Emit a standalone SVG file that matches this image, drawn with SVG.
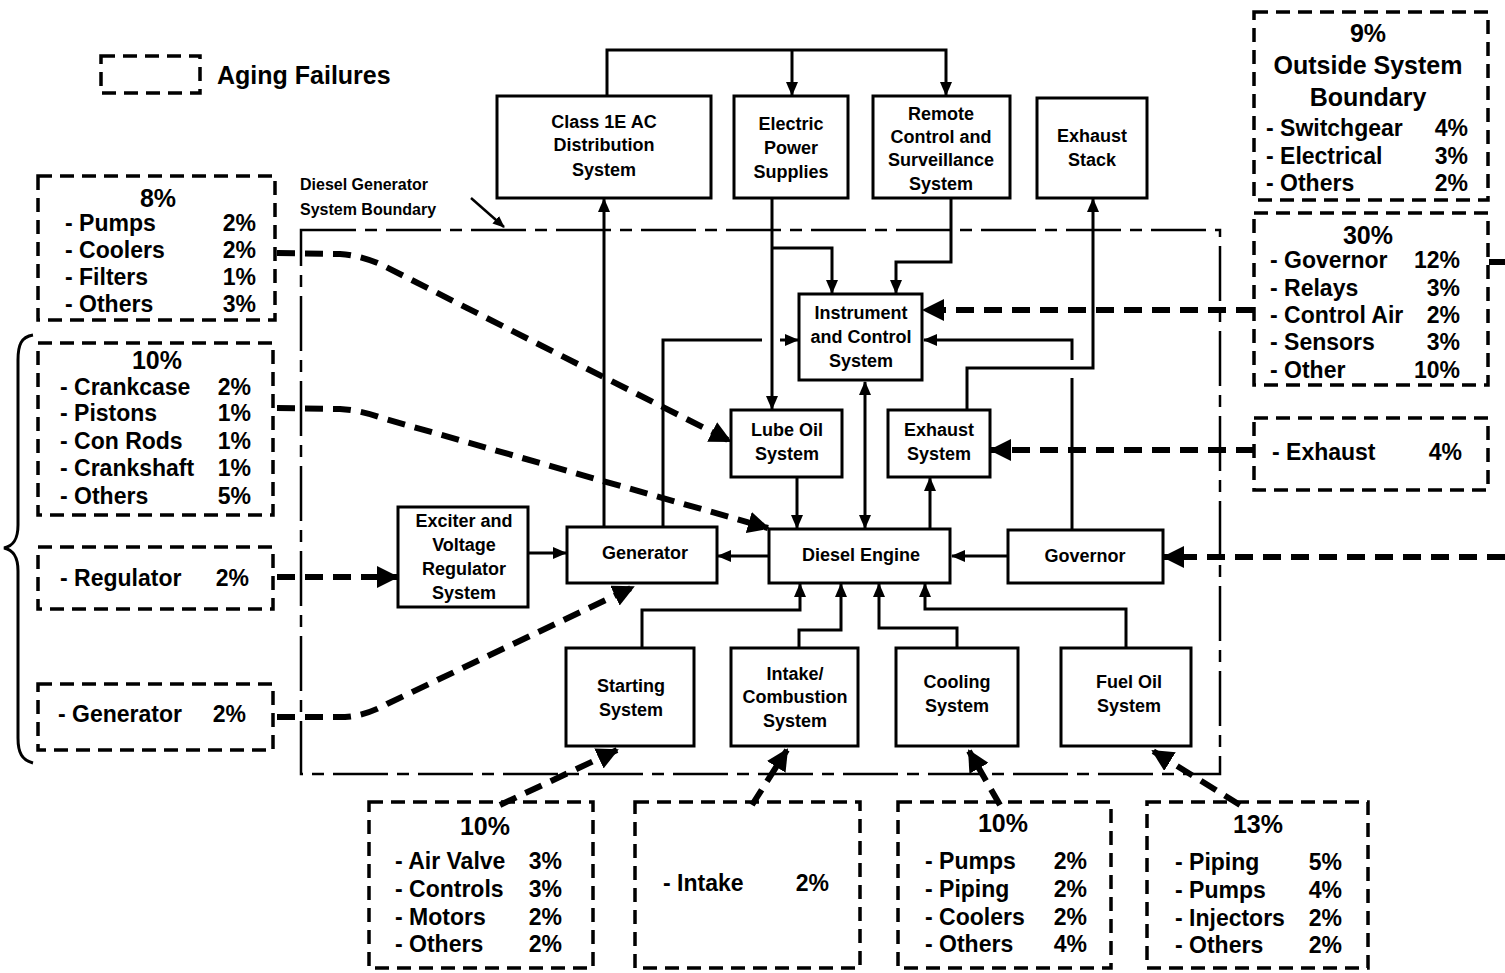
<svg xmlns="http://www.w3.org/2000/svg" width="1505" height="973" viewBox="0 0 1505 973">
  <style>
    .box { fill: #fff; stroke: #000; stroke-width: 3; }
    .fbox { fill: none; stroke: #000; stroke-width: 3.5; stroke-dasharray: 14 8; }
    .bound { fill: none; stroke: #000; stroke-width: 2.5; stroke-dasharray: 55 9 12 9; }
    .wire { fill: none; stroke: #000; stroke-width: 3; }
    .fail { fill: none; stroke: #000; stroke-width: 6; stroke-dasharray: 18 10; }
    .lbl { font-family: "Liberation Sans", Arial, sans-serif; font-weight: bold; font-size: 18px; text-anchor: middle; fill: #000; }
    .ft { font-family: "Liberation Sans", Arial, sans-serif; font-weight: bold; font-size: 23px; fill: #000; }
    .hd { font-size: 25px; }
    .mid { text-anchor: middle; }
    .end { text-anchor: end; }
  </style>
  <defs>
    <marker id="ah" markerWidth="14" markerHeight="12" refX="13" refY="6" orient="auto-start-reverse" markerUnits="userSpaceOnUse">
      <path d="M0,0 L14,6 L0,12 Z" fill="#000"/>
    </marker>
    <marker id="fh" markerWidth="22" markerHeight="22" refX="20" refY="11" orient="auto" markerUnits="userSpaceOnUse">
      <path d="M0,0 L22,11 L0,22 Z" fill="#000"/>
    </marker>
    <marker id="th" markerWidth="12" markerHeight="10" refX="11" refY="5" orient="auto" markerUnits="userSpaceOnUse">
      <path d="M0,0 L12,5 L0,10 Z" fill="#000"/>
    </marker>
  </defs>

  <!-- legend -->
  <g id="legend">
    <rect class="fbox" x="101" y="56" width="99" height="37"/>
    <text class="ft" x="217" y="84" style="font-size:25px">Aging Failures</text>
  </g>

  <!-- system boundary -->
  <g id="boundary">
    <rect class="bound" x="301" y="230" width="919" height="544"/>
    <text class="ft" x="300" y="190" style="font-size:16px">Diesel Generator</text>
    <text class="ft" x="300" y="215" style="font-size:16px">System Boundary</text>
    <path class="wire" d="M471,198 L504,227" style="stroke-width:2.5" marker-end="url(#th)"/>
  </g>

  <!-- solid connectors -->
  <g id="connectors">
    <path class="wire" d="M607,96 V50 H946 V95" marker-end="url(#ah)"/>
    <path class="wire" d="M792,50 V95" marker-end="url(#ah)"/>
    <path class="wire" d="M604,527 V199" marker-end="url(#ah)"/>
    <path class="wire" d="M663,527 V340 H762"/>
    <path class="wire" d="M780,340 H798" marker-end="url(#ah)"/>
    <path class="wire" d="M772,198 V409" marker-end="url(#ah)"/>
    <path class="wire" d="M772,248 H832 V293" marker-end="url(#ah)"/>
    <path class="wire" d="M951,198 V262 H896 V293" marker-end="url(#ah)"/>
    <path class="wire" d="M865,382 V528" marker-start="url(#ah)" marker-end="url(#ah)"/>
    <path class="wire" d="M797,477 V528" marker-end="url(#ah)"/>
    <path class="wire" d="M930,529 V478" marker-end="url(#ah)"/>
    <path class="wire" d="M967,410 V368 H1093 V199" marker-end="url(#ah)"/>
    <path class="wire" d="M1072,530 V378"/>
    <path class="wire" d="M1072,360 V340 H924" marker-end="url(#ah)"/>
    <path class="wire" d="M1008,556 H952" marker-end="url(#ah)"/>
    <path class="wire" d="M768,556 H718" marker-end="url(#ah)"/>
    <path class="wire" d="M528,553 H566" marker-end="url(#ah)"/>
    <path class="wire" d="M642,648 V610 H800 V584" marker-end="url(#ah)"/>
    <path class="wire" d="M799,648 V630 H841 V584" marker-end="url(#ah)"/>
    <path class="wire" d="M957,648 V628 H879 V584" marker-end="url(#ah)"/>
    <path class="wire" d="M1126,648 V609 H925 V584" marker-end="url(#ah)"/>
  </g>

  <!-- aging failure paths -->
  <g id="failure-links">
    <path class="fail" d="M277,253 L340,254 Q360,255 382,265 L730,441" marker-end="url(#fh)"/>
    <path class="fail" d="M277,408 L340,409 Q360,410 382,418 L768,528" marker-end="url(#fh)"/>
    <path class="fail" d="M277,577 L397,577" marker-end="url(#fh)"/>
    <path class="fail" d="M277,717 L345,717 Q365,716 387,704 L633,587" marker-end="url(#fh)"/>
    <path class="fail" d="M500,805 L617,750" marker-end="url(#fh)"/>
    <path class="fail" d="M752,805 L787,750" marker-end="url(#fh)"/>
    <path class="fail" d="M1000,805 L969,751" marker-end="url(#fh)"/>
    <path class="fail" d="M1240,805 L1153,751" marker-end="url(#fh)"/>
    <path class="fail" d="M1254,310 L924,310" marker-end="url(#fh)"/>
    <path class="fail" d="M1254,450 L991,450" marker-end="url(#fh)"/>
    <path class="fail" d="M1505,557 L1164,557" marker-end="url(#fh)"/>
    <path class="fail" d="M1489,262 L1505,262"/>
  </g>

  <!-- left brace -->
  <path id="brace" class="wire" d="M33,335 C21,337 18,345 18,360 L18,525 C18,540 13,546 4,548 C13,550 18,556 18,571 L18,738 C18,753 22,760 33,763"/>

  <!-- system blocks -->
  <g id="class1e">
    <rect class="box" x="497" y="96" width="214" height="102"/>
    <text class="lbl" x="604" y="128">Class 1E AC</text>
    <text class="lbl" x="604" y="151">Distribution</text>
    <text class="lbl" x="604" y="176">System</text>
  </g>
  <g id="electric-power">
    <rect class="box" x="734" y="96" width="114" height="102"/>
    <text class="lbl" x="791" y="130">Electric</text>
    <text class="lbl" x="791" y="154">Power</text>
    <text class="lbl" x="791" y="178">Supplies</text>
  </g>
  <g id="remote-control">
    <rect class="box" x="873" y="96" width="137" height="102"/>
    <text class="lbl" x="941" y="120">Remote</text>
    <text class="lbl" x="941" y="143">Control and</text>
    <text class="lbl" x="941" y="166">Surveillance</text>
    <text class="lbl" x="941" y="190">System</text>
  </g>
  <g id="exhaust-stack">
    <rect class="box" x="1037" y="98" width="110" height="100"/>
    <text class="lbl" x="1092" y="142">Exhaust</text>
    <text class="lbl" x="1092" y="166">Stack</text>
  </g>
  <g id="instrument-control">
    <rect class="box" x="799" y="294" width="123" height="86"/>
    <text class="lbl" x="861" y="319">Instrument</text>
    <text class="lbl" x="861" y="343">and Control</text>
    <text class="lbl" x="861" y="367">System</text>
  </g>
  <g id="lube-oil">
    <rect class="box" x="731" y="410" width="111" height="67"/>
    <text class="lbl" x="787" y="436">Lube Oil</text>
    <text class="lbl" x="787" y="460">System</text>
  </g>
  <g id="exhaust-system">
    <rect class="box" x="888" y="410" width="102" height="67"/>
    <text class="lbl" x="939" y="436">Exhaust</text>
    <text class="lbl" x="939" y="460">System</text>
  </g>
  <g id="exciter">
    <rect class="box" x="398" y="507" width="130" height="100"/>
    <text class="lbl" x="464" y="527">Exciter and</text>
    <text class="lbl" x="464" y="551">Voltage</text>
    <text class="lbl" x="464" y="575">Regulator</text>
    <text class="lbl" x="464" y="599">System</text>
  </g>
  <g id="generator">
    <rect class="box" x="567" y="527" width="150" height="56"/>
    <text class="lbl" x="645" y="559">Generator</text>
  </g>
  <g id="diesel-engine">
    <rect class="box" x="769" y="529" width="181" height="54"/>
    <text class="lbl" x="861" y="561">Diesel Engine</text>
  </g>
  <g id="governor">
    <rect class="box" x="1008" y="530" width="155" height="53"/>
    <text class="lbl" x="1085" y="562">Governor</text>
  </g>
  <g id="starting">
    <rect class="box" x="566" y="648" width="128" height="98"/>
    <text class="lbl" x="631" y="692">Starting</text>
    <text class="lbl" x="631" y="716">System</text>
  </g>
  <g id="intake">
    <rect class="box" x="731" y="648" width="127" height="98"/>
    <text class="lbl" x="795" y="680">Intake/</text>
    <text class="lbl" x="795" y="703">Combustion</text>
    <text class="lbl" x="795" y="727">System</text>
  </g>
  <g id="cooling">
    <rect class="box" x="896" y="648" width="122" height="98"/>
    <text class="lbl" x="957" y="688">Cooling</text>
    <text class="lbl" x="957" y="712">System</text>
  </g>
  <g id="fuel-oil">
    <rect class="box" x="1061" y="648" width="130" height="98"/>
    <text class="lbl" x="1129" y="688">Fuel Oil</text>
    <text class="lbl" x="1129" y="712">System</text>
  </g>

  <!-- failure breakdown boxes -->
  <g id="fail-outside">
    <rect class="fbox" x="1254" y="12" width="234" height="188"/>
    <text class="ft hd mid" x="1368" y="42">9%</text>
    <text class="ft hd mid" x="1368" y="74">Outside System</text>
    <text class="ft hd mid" x="1368" y="106">Boundary</text>
    <text class="ft" x="1266" y="136">- Switchgear</text><text class="ft end" x="1468" y="136">4%</text>
    <text class="ft" x="1266" y="164">- Electrical</text><text class="ft end" x="1468" y="164">3%</text>
    <text class="ft" x="1266" y="191">- Others</text><text class="ft end" x="1468" y="191">2%</text>
  </g>
  <g id="fail-controls">
    <rect class="fbox" x="1254" y="213" width="234" height="172"/>
    <text class="ft hd mid" x="1368" y="244">30%</text>
    <text class="ft" x="1270" y="268">- Governor</text><text class="ft end" x="1460" y="268">12%</text>
    <text class="ft" x="1270" y="296">- Relays</text><text class="ft end" x="1460" y="296">3%</text>
    <text class="ft" x="1270" y="323">- Control Air</text><text class="ft end" x="1460" y="323">2%</text>
    <text class="ft" x="1270" y="350">- Sensors</text><text class="ft end" x="1460" y="350">3%</text>
    <text class="ft" x="1270" y="378">- Other</text><text class="ft end" x="1460" y="378">10%</text>
  </g>
  <g id="fail-exhaust">
    <rect class="fbox" x="1254" y="418" width="234" height="72"/>
    <text class="ft" x="1272" y="460">- Exhaust</text><text class="ft end" x="1462" y="460">4%</text>
  </g>
  <g id="fail-lube">
    <rect class="fbox" x="38" y="176" width="237" height="144"/>
    <text class="ft hd mid" x="158" y="207">8%</text>
    <text class="ft" x="65" y="231">- Pumps</text><text class="ft end" x="256" y="231">2%</text>
    <text class="ft" x="65" y="258">- Coolers</text><text class="ft end" x="256" y="258">2%</text>
    <text class="ft" x="65" y="285">- Filters</text><text class="ft end" x="256" y="285">1%</text>
    <text class="ft" x="65" y="312">- Others</text><text class="ft end" x="256" y="312">3%</text>
  </g>
  <g id="fail-engine">
    <rect class="fbox" x="38" y="343" width="235" height="172"/>
    <text class="ft hd mid" x="157" y="369">10%</text>
    <text class="ft" x="60" y="395">- Crankcase</text><text class="ft end" x="251" y="395">2%</text>
    <text class="ft" x="60" y="421">- Pistons</text><text class="ft end" x="251" y="421">1%</text>
    <text class="ft" x="60" y="449">- Con Rods</text><text class="ft end" x="251" y="449">1%</text>
    <text class="ft" x="60" y="476">- Crankshaft</text><text class="ft end" x="251" y="476">1%</text>
    <text class="ft" x="60" y="504">- Others</text><text class="ft end" x="251" y="504">5%</text>
  </g>
  <g id="fail-regulator">
    <rect class="fbox" x="38" y="547" width="235" height="62"/>
    <text class="ft" x="60" y="586">- Regulator</text><text class="ft end" x="249" y="586">2%</text>
  </g>
  <g id="fail-generator">
    <rect class="fbox" x="38" y="684" width="235" height="66"/>
    <text class="ft" x="58" y="722">- Generator</text><text class="ft end" x="246" y="722">2%</text>
  </g>
  <g id="fail-starting">
    <rect class="fbox" x="369" y="802" width="224" height="166"/>
    <text class="ft hd mid" x="485" y="835">10%</text>
    <text class="ft" x="395" y="869">- Air Valve</text><text class="ft end" x="562" y="869">3%</text>
    <text class="ft" x="395" y="897">- Controls</text><text class="ft end" x="562" y="897">3%</text>
    <text class="ft" x="395" y="925">- Motors</text><text class="ft end" x="562" y="925">2%</text>
    <text class="ft" x="395" y="952">- Others</text><text class="ft end" x="562" y="952">2%</text>
  </g>
  <g id="fail-intake">
    <rect class="fbox" x="635" y="802" width="225" height="166"/>
    <text class="ft" x="663" y="891">- Intake</text><text class="ft end" x="829" y="891">2%</text>
  </g>
  <g id="fail-cooling">
    <rect class="fbox" x="898" y="802" width="213" height="166"/>
    <text class="ft hd mid" x="1003" y="832">10%</text>
    <text class="ft" x="925" y="869">- Pumps</text><text class="ft end" x="1087" y="869">2%</text>
    <text class="ft" x="925" y="897">- Piping</text><text class="ft end" x="1087" y="897">2%</text>
    <text class="ft" x="925" y="925">- Coolers</text><text class="ft end" x="1087" y="925">2%</text>
    <text class="ft" x="925" y="952">- Others</text><text class="ft end" x="1087" y="952">4%</text>
  </g>
  <g id="fail-fuel">
    <rect class="fbox" x="1147" y="802" width="221" height="166"/>
    <text class="ft hd mid" x="1258" y="833">13%</text>
    <text class="ft" x="1175" y="870">- Piping</text><text class="ft end" x="1342" y="870">5%</text>
    <text class="ft" x="1175" y="898">- Pumps</text><text class="ft end" x="1342" y="898">4%</text>
    <text class="ft" x="1175" y="926">- Injectors</text><text class="ft end" x="1342" y="926">2%</text>
    <text class="ft" x="1175" y="953">- Others</text><text class="ft end" x="1342" y="953">2%</text>
  </g>
</svg>
